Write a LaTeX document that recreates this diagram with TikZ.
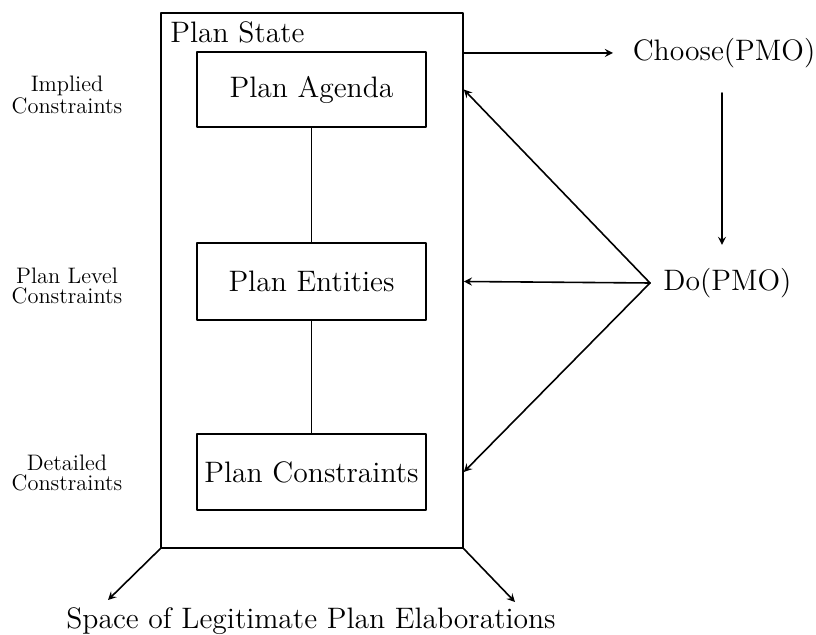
\documentclass[tikz,border=0pt]{standalone}
\usetikzlibrary{positioning}
\tikzset{
	big/.style={font=\fontsize{14.8}{17}\selectfont},
	small/.style={font=\fontsize{11.2}{10}\selectfont, align=center},
	part/.style={draw, big, minimum width=114.5pt, minimum height=38pt, inner sep=0pt},
}
\begin{document}
\begin{tikzpicture}[x=0.5pt, y=-0.5pt, line join=round, line cap=round, >=stealth, thick]
	\useasboundingbox (0,0) rectangle (816,635);
	% plan state and its parts
	\node[draw, minimum width=151pt, minimum height=267.5pt, inner sep=0pt](state) at (312,280.5){};
	\node[big, anchor=west] (title) at (163,32) {Plan State};
	\node[part, minimum height=37.5pt] (agenda) at (311.5,89.5) {Plan Agenda};
	\node[part, minimum height=38.5pt] (entities) at (311.5,281.5) {Plan Entities};
	\node[part] (cons) at (311.5,472) {Plan Constraints};
	\draw (agenda)--(entities)--(cons);
	% labels on the left
	\node[small] (implied) at (67,95) {Implied\\Constraints};
	\node[small] (level) at (67,286) {Plan Level\\Constraints};
	\node[small] (detailed) at (67,473) {Detailed\\Constraints};
	% operators
	\node[big, anchor=west, inner sep=1pt] (choose) at (630,53) {Choose(PMO)};
	\node[big, anchor=west] (do) at (656,283) {Do(PMO)};
	\coordinate (out) at (463,53);
	\coordinate (in) at (613,53);
	\coordinate (apex) at (650,283);
	\coordinate (c1) at (722,93);
	\coordinate (c2) at (722,245);
	\draw[->] (out)--(in);
	\draw[->] (c1)--(c2);
	\draw[->] (apex)--(state.east |- agenda);
	\draw[->] (apex)--(state.east |- entities);
	\draw[->] (apex)--(state.east |- cons);
	% elaborations
	\node[big] (space) at (311,621) {Space of Legitimate Plan Elaborations};
	\coordinate (sw) at (108,600);
	\coordinate (se) at (515,602);
	\draw[->] (state.south west)--(sw);
	\draw[->] (state.south east)--(se);
\end{tikzpicture}
\end{document}
